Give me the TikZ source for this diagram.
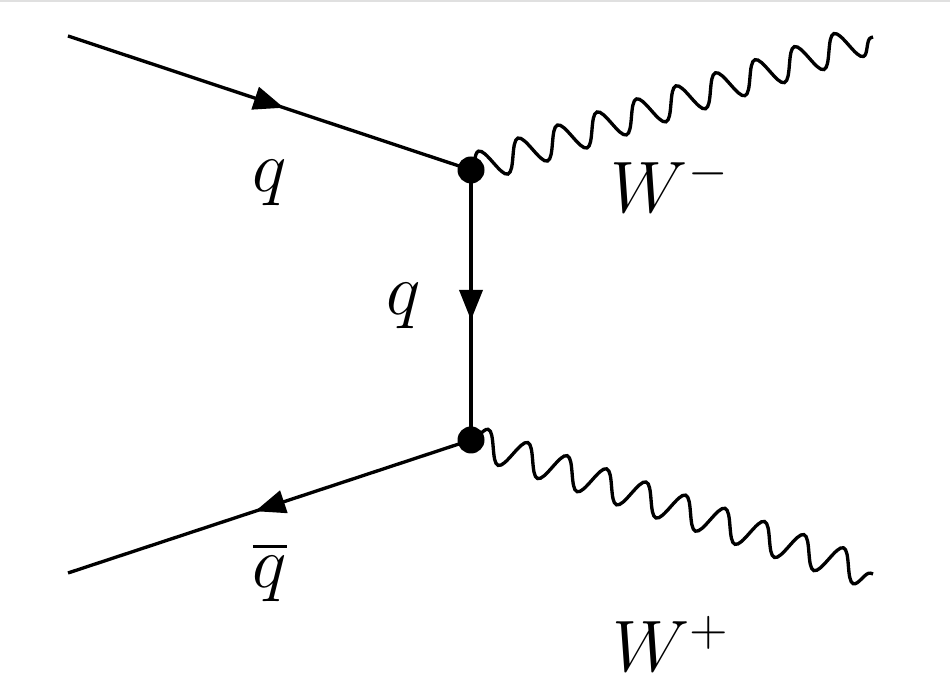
\documentclass[tikz,border=0pt]{standalone}
\usepackage{amsmath}
\usepackage{amssymb}
\usepackage{tikz}
\usetikzlibrary{arrows.meta,decorations.markings,decorations.pathmorphing}

\tikzset{
    fermion/.style={line width=0.95pt, postaction={decorate},
        decoration={markings, mark=at position 0.5 with {\arrow[xshift=4.3pt]{Triangle[length=8.6pt,width=6.6pt]}}}},
    boson/.style={line width=0.95pt, decorate,
        decoration={snake, amplitude=0.155cm, segment length=0.416cm}},
    vertex/.style={circle, fill, inner sep=0pt, minimum size=0.27cm},
    lbl/.style={font=\huge, anchor=base}
}

\begin{document}
\begin{tikzpicture}
    \useasboundingbox (0,0) rectangle (9.5,6.97);
    \draw[black!12, line width=0.7pt] (0,6.96) -- (9.5,6.96);
    % legs
    \coordinate (qin) at (0.68,6.61);
    \coordinate (qbarout) at (0.68,1.24);
    \coordinate (wminus) at (8.73,6.60);
    \coordinate (wplus) at (8.73,1.23);
    \node[vertex] (vtop) at (4.71,5.27) {};
    \node[vertex] (vbot) at (4.71,2.57) {};
    \draw[fermion] (qin) -- (vtop.center);
    \draw[fermion] (vtop.center) -- (vbot.center);
    \draw[fermion] (vbot.center) -- (qbarout);
    \draw[boson] (vtop.center) -- (wminus);
    \draw[boson] (vbot.center) -- (wplus);
    % labels
    \node[lbl] (lq) at (2.70,5.05) {$q$};
    \node[lbl] (lqmid) at (4.04,3.82) {$q$};
    \node[lbl] (lqbar) at (2.70,1.09) {$\overline{q}$};
    \node[lbl] (lwm) at (6.70,4.84) {$W^-$};
    \node[lbl] (lwp) at (6.71,0.25) {$W^+$};
\end{tikzpicture}
\end{document}
